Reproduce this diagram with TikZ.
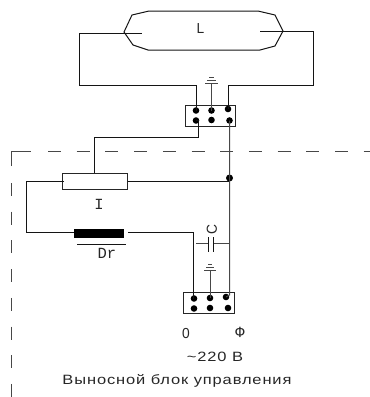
\documentclass[tikz,border=0pt]{standalone}
\usepackage{fontspec}
\setmainfont{Liberation Mono}
\newfontfamily\capfont{Liberation Sans}[FakeStretch=1.22,LetterSpace=6.5]
\newfontfamily\tallfont{Liberation Sans}[FakeStretch=0.95]
\tikzset{
  wire/.style={line width=1pt,draw=black!92,line join=miter},
  thin wire/.style={line width=1pt,draw=black!72},
  dashline/.style={line width=1pt,draw=black!72,dash pattern=on 13pt off 15.7pt},
  pin/.style={circle,fill=black,inner sep=0pt,minimum size=6.6pt,draw=none},
  block/.style={rectangle,draw=black!85,line width=1pt,fill=none,inner sep=0pt},
  lbl/.style={inner sep=0pt,font=\fontsize{15.5}{16}\selectfont,text=black!85},
  caplbl/.style={inner sep=0pt,font=\capfont\fontsize{13.5}{14}\selectfont,text=black!85},
  talllbl/.style={inner sep=0pt,font=\tallfont\fontsize{14.5}{15}\selectfont,text=black!85}
}
\begin{document}
\begin{tikzpicture}[x=1pt,y=-1pt]
\useasboundingbox (0,0) rectangle (370,397);
% lamp
\draw[wire] (124,32) -- (132,15) -- (149,11) -- (258,11) -- (275,15) -- (283,31) -- (275,46) -- (260,50) -- (148,50) -- (133,45) -- cycle;
\node[talllbl] (L) at (200.5,29) {L};
\coordinate (eL) at (124,33);
\coordinate (eR) at (283,31);
\coordinate (eLi) at (142,33);
\coordinate (eRi) at (260,31);
\draw[wire] (eL) -- (eLi);
\draw[wire] (eR) -- (eRi);
% upper connector
\node[block,minimum width=50pt,minimum height=21pt] (top) at (210,115.5) {};
\node[pin] (t1) at (196,110.5) {};
\node[pin] (t2) at (211.5,110.5) {};
\node[pin] (t3) at (228,109) {};
\node[pin] (t4) at (196,120.5) {};
\node[pin] (t5) at (211.5,120) {};
\node[pin] (t6) at (229.5,120.5) {};
\coordinate (wa) at (79,85);
\coordinate (wb) at (313,85);
\draw[wire] (eL) -| (wa) -- (196,85) -- (t1.center);
\draw[wire] (eR) -| (wb) -- (228,85) -- (t3.center);
% upper ground
\coordinate (g1) at (211.5,83);
\draw[thin wire] (g1) -- (t2.center);
\draw[thin wire] (205,83) -- (218,83) (207,80) -- (216,80) (209,77) -- (214,77);
% resistor
\node[block,minimum width=65pt,minimum height=16pt] (R) at (94.5,181) {};
\node[lbl] (I) at (99,204.5) {I};
\coordinate (ra) at (198,120.5);
\coordinate (rb) at (198,137.5);
\coordinate (rc) at (94,137.5);
\coordinate (rd) at (94,173);
\draw[wire] (t4.center) -- (ra) -- (rb) -- (rc) -- (rd);
% junction
\node[pin,minimum size=7pt] (J) at (229.5,178) {};
% bottom connector
\node[block,minimum width=51pt,minimum height=21pt] (bot) at (208.5,302.5) {};
\node[pin] (b1) at (194,298.5) {};
\node[pin] (b2) at (210,298) {};
\node[pin] (b3) at (226,297) {};
\node[pin] (b4) at (194,308.5) {};
\node[pin] (b5) at (210,308) {};
\node[pin] (b6) at (228,308) {};
\coordinate (ta) at (229,295);
\draw[thin wire] (t6.center) -- (t6.center |- ta) -- (b3.center);
\draw[wire] (R.east) -- (229,181);
\coordinate (la) at (26,181);
\coordinate (lb) at (26,232);
% choke
\node[rectangle,fill=black,draw=none,inner sep=0pt,minimum width=49.5pt,minimum height=9pt] (Dk) at (98.75,233.5) {};
\draw[wire] (64,181) -- (la) -- (lb) -- (Dk.west |- lb);
\coordinate (lc) at (193.5,232);
\draw[wire] (128,232) -- (lc) -- (lc |- b1.center);
\draw[wire] (77,244) -- (126,244);
\node[lbl] (Dr) at (107,253) {Dr};
% capacitor
\coordinate (c1) at (208,243.5);
\coordinate (c2) at (213.5,243.5);
\draw[thin wire] (196,243.5) -- (c1) (c2) -- (229,243.5);
\draw[wire] (208,237) -- (208,252) (213.5,237) -- (213.5,252);
\node[talllbl,rotate=90] (C) at (212,229.5) {C};
% lower ground
\coordinate (g2) at (210,270);
\draw[thin wire] (g2) -- (b2.center);
\draw[thin wire] (204,270) -- (216,270) (206,267) -- (214,267) (208,264) -- (212,264);
% dashed frame
\draw[thin wire] (11,166) -- (11,151) -- (31,151);
\draw[dashline] (48,151) -- (370,151);
\draw[dashline] (11,183) -- (11,397);
% labels
\node[talllbl] (zero) at (186,334) {0};
\node[lbl] (phi) at (240,332) {Ф};
\node[caplbl] (volt) at (215,357) {\textasciitilde220 В};
\node[caplbl] (cap) at (177,381) {Выносной блок управления};
\end{tikzpicture}
\end{document}
